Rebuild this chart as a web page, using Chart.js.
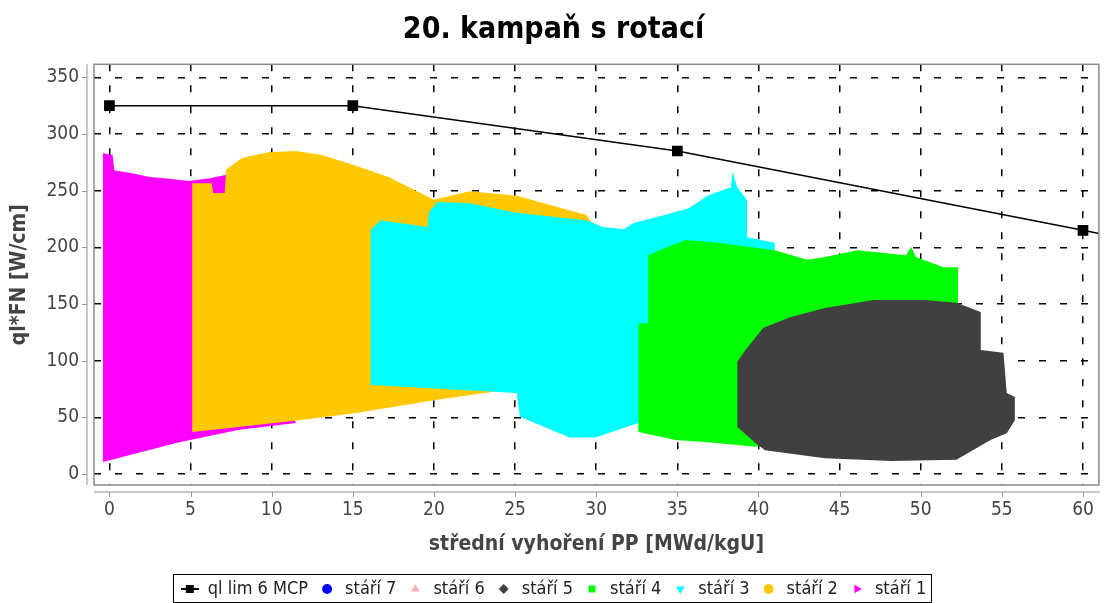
<!DOCTYPE html>
<html lang="cs">
<head>
<meta charset="utf-8">
<title>20. kampaň s rotací</title>
<script src="https://cdn.jsdelivr.net/npm/chart.js@4.4.1/dist/chart.umd.min.js"></script>
<style>
  html, body { margin: 0; padding: 0; background: #fff; }
  canvas { display: block; }
</style>
</head>
<body>
<canvas id="grafKampan" width="1108" height="603"></canvas>
<script>
// --- Datos ---
const xTicks = [0, 5, 10, 15, 20, 25, 30, 35, 40, 45, 50, 55, 60];
const yTicks = [0, 50, 100, 150, 200, 250, 300, 350];

// limite ql lim 6 MCP (el ultimo punto queda fuera del eje)
const limX = [0, 15, 35, 60, 65];
const limY = [325, 325, 285, 215, 201];

// contornos de las nubes de puntos por edad
const stari1X = [-0.4, 0.2, 0.3, 1.3, 2.5, 3.7, 4.9, 6.2, 7.2, 7.5, 11.5, 8.0, 4.3, -0.4];
const stari1Y = [283, 281.5, 268, 265.5, 262, 260.5, 258.5, 261, 264, 153, 45, 39, 28, 10.5];

const stari2X = [5.1, 5.1, 6.3, 6.4, 7.1, 7.2, 8.2, 9.8, 11.5, 13.1, 15.1, 17.2, 20.0, 22.2, 25.1, 27.6, 29.4, 29.8, 27.6, 25.4, 20.2, 15.3, 11.7, 7.4];
const stari2Y = [37, 256.5, 256.5, 248, 248, 269, 279, 284, 285, 281.5, 272.5, 262, 242, 249.5, 245.5, 235.5, 228.5, 219.5, 153.5, 76, 65.5, 54, 47.5, 40.5];

const stari3X = [16.1, 16.1, 16.7, 19.6, 19.7, 20.2, 22.2, 25.1, 27.6, 29.4, 30.4, 31.7, 32.3, 33.7, 35.7, 36.9, 38.3, 38.4, 38.7, 39.3, 39.3, 41.0, 41.0, 33.7, 32.6, 30.0, 28.4, 25.3, 25.1];
const stari3Y = [78.5, 215.5, 224, 218, 231, 240, 239, 230.5, 226.5, 224, 218, 216, 221.5, 226.5, 234.5, 246, 253, 266.5, 253, 241.5, 209, 204, 153.5, 65.5, 45, 32.5, 32, 50.5, 71.5];

const stari4X = [32.6, 32.6, 33.2, 33.2, 33.9, 35.5, 37.5, 41.0, 43.0, 44.1, 46.1, 49.1, 49.4, 49.7, 51.4, 52.3, 52.3, 48.3, 39.8, 36.9, 34.9];
const stari4Y = [37, 133, 133, 193, 197.5, 206.5, 204, 197.5, 189, 191.5, 197.5, 193, 200.5, 191.5, 182.5, 182.5, 144.5, 65.5, 24, 28, 30];

const stari5X = [38.7, 38.7, 39.2, 40.3, 42.0, 44.1, 47.1, 50.2, 52.2, 53.7, 53.7, 55.1, 55.3, 55.8, 55.8, 55.3, 54.3, 52.2, 48.2, 44.1, 40.4, 39.8];
const stari5Y = [41.5, 99, 109.5, 129, 138.5, 146.5, 153.5, 153.5, 151, 143, 109.5, 107, 71.5, 68, 47.5, 36, 30, 12.5, 11.5, 14, 21, 27.5];

const FUENTE = "'DejaVu Sans Condensed', 'DejaVu Sans', sans-serif";

const puntos = (xs, ys) => xs.map((x, i) => ({ x, y: ys[i] }));

// nube rellena (poligono cerrado)
function nube(label, xs, ys, color, estilo, rot) {
  return {
    label,
    data: puntos(xs, ys),
    showLine: true,
    fill: 'shape',
    backgroundColor: color,
    borderColor: color,
    borderWidth: 0,
    pointRadius: 0,
    pointHoverRadius: 0,
    pointHitRadius: 0,
    pointStyle: estilo,
    pointRotation: rot || 0
  };
}

// icono de la leyenda: linea + cuadrado
const iconoLim = document.createElement('canvas');
iconoLim.width = 18;
iconoLim.height = 10;
const ic = iconoLim.getContext('2d');
ic.fillStyle = '#000';
ic.fillRect(0, 4, 18, 2);
ic.fillRect(5, 1, 8, 8);

// borde del area, ejes desplazados y recuadro de leyenda
const marcoPlot = {
  id: 'marcoPlot',
  afterDraw(chart) {
    const { ctx, chartArea: a, scales: { x, y } } = chart;
    ctx.save();
    ctx.strokeStyle = '#c8c8c8';
    ctx.lineWidth = 2;
    ctx.beginPath();
    ctx.moveTo(a.left - 7, a.top);
    ctx.lineTo(a.left - 7, a.bottom);
    ctx.moveTo(a.left, a.bottom + 7);
    ctx.lineTo(a.right + 1, a.bottom + 7);
    ctx.stroke();

    ctx.strokeStyle = '#999';
    ctx.lineWidth = 1;
    ctx.beginPath();
    yTicks.forEach(v => {
      const py = Math.round(y.getPixelForValue(v)) + 0.5;
      ctx.moveTo(a.left - 12, py);
      ctx.lineTo(a.left - 7, py);
    });
    xTicks.forEach(v => {
      const px = Math.round(x.getPixelForValue(v)) + 0.5;
      ctx.moveTo(px, a.bottom + 7);
      ctx.lineTo(px, a.bottom + 12);
    });
    ctx.stroke();

    ctx.strokeStyle = '#8a8a8a';
    ctx.lineWidth = 1.5;
    ctx.strokeRect(a.left, a.top, a.right - a.left, a.bottom - a.top);

    const cajas = chart.legend.legendHitBoxes;
    if (cajas.length) {
      const izq = Math.min(...cajas.map(c => c.left)) - 8;
      const der = Math.max(...cajas.map(c => c.left + c.width)) + 5;
      const centro = cajas[0].top + cajas[0].height / 2;
      ctx.strokeStyle = '#000';
      ctx.lineWidth = 1;
      ctx.strokeRect(Math.round(izq) + 0.5, Math.round(centro - 15) + 0.5, Math.round(der - izq), 28);
    }
    ctx.restore();
  }
};

new Chart(document.getElementById('grafKampan'), {
  type: 'scatter',
  data: {
    datasets: [
      {
        label: 'ql lim 6 MCP',
        data: puntos(limX, limY),
        showLine: true,
        borderColor: '#000',
        backgroundColor: '#000',
        borderWidth: 1.5,
        pointStyle: 'rect',
        pointRadius: 6.5,
        pointHoverRadius: 6.5
      },
      { label: 'stáří 7', data: [], backgroundColor: '#0000ff', borderColor: '#0000ff', borderWidth: 0, pointStyle: 'circle' },
      { label: 'stáří 6', data: [], backgroundColor: '#ffafaf', borderColor: '#ffafaf', borderWidth: 0, pointStyle: 'triangle' },
      nube('stáří 5', stari5X, stari5Y, '#404040', 'rectRot'),
      nube('stáří 4', stari4X, stari4Y, '#00ff00', 'rect'),
      nube('stáří 3', stari3X, stari3Y, '#00ffff', 'triangle', 180),
      nube('stáří 2', stari2X, stari2Y, '#ffc800', 'circle'),
      nube('stáří 1', stari1X, stari1Y, '#ff00ff', 'triangle', 90)
    ]
  },
  options: {
    responsive: false,
    animation: false,
    devicePixelRatio: 1,
    layout: { padding: { left: 0, right: 1, top: 0, bottom: -5 } },
    plugins: {
      title: {
        display: true,
        text: '20. kampaň s rotací',
        color: '#000',
        font: { family: FUENTE, size: 30, weight: 'bold' },
        padding: { top: 12, bottom: 16.3 }
      },
      legend: {
        position: 'bottom',
        labels: {
          usePointStyle: true,
          boxHeight: 7,
          padding: 10,
          color: '#222',
          font: { family: FUENTE, size: 18 },
          generateLabels(chart) {
            const items = Chart.defaults.plugins.legend.labels.generateLabels(chart);
            items[0].pointStyle = iconoLim;
            return items;
          }
        }
      },
      tooltip: { enabled: false }
    },
    scales: {
      x: {
        type: 'linear',
        min: -0.95,
        max: 60.98,
        afterBuildTicks: s => { s.ticks = xTicks.map(v => ({ value: v })); },
        afterFit: s => { s.height = 85; },
        ticks: { color: '#444', padding: 14, autoSkip: false, maxRotation: 0, font: { family: FUENTE, size: 19 }, callback: v => String(v) },
        grid: { color: '#000', lineWidth: 1.5, drawTicks: false },
        border: { display: false, dash: [7, 14] },
        title: {
          display: true,
          text: 'střední vyhoření PP [MWd/kgU]',
          color: '#444',
          font: { family: FUENTE, size: 21, weight: 'bold' },
          padding: { top: 0, bottom: 12.4 }
        }
      },
      y: {
        type: 'linear',
        min: -9.7,
        max: 361.5,
        afterBuildTicks: s => { s.ticks = yTicks.map(v => ({ value: v })); },
        afterFit: s => { s.width = 94; },
        ticks: { color: '#444', padding: 15, font: { family: FUENTE, size: 19 }, callback: v => String(v) },
        grid: { color: '#000', lineWidth: 1.5, drawTicks: false },
        border: { display: false, dash: [7, 14] },
        title: {
          display: true,
          text: 'ql*FN [W/cm]',
          color: '#444',
          font: { family: FUENTE, size: 21, weight: 'bold' },
          padding: { top: 7, bottom: 0 }
        }
      }
    }
  },
  plugins: [marcoPlot]
});
</script>
</body>
</html>
